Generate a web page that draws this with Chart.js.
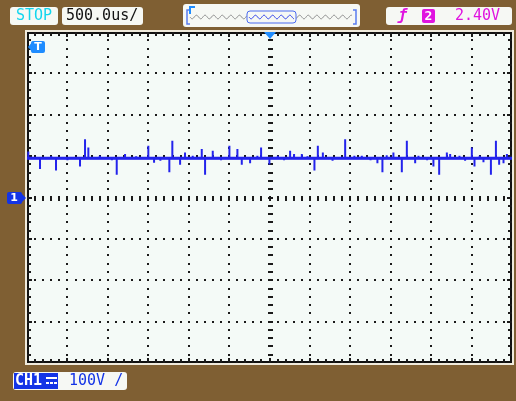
<!DOCTYPE html>
<html>
<head>
<meta charset="utf-8">
<script src="https://cdn.jsdelivr.net/npm/chart.js@4"></script>
<style>
html, body { margin: 0; padding: 0; background: #7f5f33; }
canvas { display: block; }
</style>
</head>
<body>
<canvas id="scope" width="516" height="401"></canvas>
<script>
// Scope settings as shown on screen
const timeRange = [-3000, 3000];   // us, 12 divisions of 500us
const voltRange = [-400, 400];     // V, 8 divisions of 100V
const timePerDiv = 500;
const voltPerDiv = 100;
const baselineVolts = 95;

// CH1 trace: spikes (time in us, level in V)
const spikeTimes = [-2984, -2839, -2641, -2344, -2282, -2241, -1890, -1787, -1499, -1428,
  -1239, -1202, -1106, -1045, -838, -797, -702, -496, -397, -343, -240, -104, -1, 103,
  255, 304, 400, 556, 598, 660, 936, 1142, 1335, 1397, 1533, 1637, 1699, 1802, 1843,
  2028, 2099, 2194, 2235, 2503, 2536, 2647, 2739, 2801, 2841, 2895, 2937];
const spikeVolts = [111, 69, 65, 75, 141, 121, 55, 105, 125, 84,
  61, 137, 79, 109, 117, 55, 113, 125, 117, 79, 83, 121, 80, 101,
  113, 105, 105, 65, 125, 109, 141, 101, 83, 61, 109, 61, 137, 83, 101,
  75, 55, 109, 105, 121, 75, 85, 55, 137, 79, 83, 105];
// small ripple on the baseline
const noiseTimes = [-2700, -2500, -2100, -1950, -1650, -1350, -950, -600, -150, 180,
  470, 780, 1050, 1250, 1450, 1950, 2350, 2420, 2600];
const noiseVolts = [100, 90, 101, 90, 100, 89, 101, 90, 101, 90,
  100, 89, 101, 90, 102, 90, 101, 89, 101];

// header texts
const runState = 'STOP';
const timeLabel = '500.0us/';
const trigSource = '2';
const trigLevel = '2.40V';
const chLabel = 'CH1';
const chScale = '100V /';

const BROWN = '#7f5f33';
const SCREEN = '#f4faf7';
const TRACE = '#2323ec';
const MARK = '#1e8cff';
const CHBLUE = '#1434e6';
const MAGENTA = '#e014e0';
const FONT = '15px "DejaVu Sans Mono"';

// build spike path: up/down from baseline at each time
function buildTrace() {
  const ev = spikeTimes.map((t, i) => ({ t, v: spikeVolts[i] }))
    .concat(noiseTimes.map((t, i) => ({ t, v: noiseVolts[i] })))
    .sort((a, b) => a.t - b.t);
  const pts = [{ x: timeRange[0], y: baselineVolts }];
  ev.forEach(e => {
    pts.push({ x: e.t, y: baselineVolts });
    pts.push({ x: e.t, y: e.v });
    pts.push({ x: e.t, y: baselineVolts });
  });
  pts.push({ x: timeRange[1], y: baselineVolts });
  return pts;
}

function roundRect(ctx, x, y, w, h, r) {
  ctx.beginPath();
  ctx.moveTo(x + r, y);
  ctx.arcTo(x + w, y, x + w, y + h, r);
  ctx.arcTo(x + w, y + h, x, y + h, r);
  ctx.arcTo(x, y + h, x, y, r);
  ctx.arcTo(x, y, x + w, y, r);
  ctx.closePath();
}

const scopeScreen = {
  id: 'scopeScreen',
  beforeDraw(chart) {
    const { ctx, chartArea: a, scales: { x, y } } = chart;
    ctx.save();
    ctx.fillStyle = BROWN;
    ctx.fillRect(0, 0, chart.width, chart.height);
    ctx.fillStyle = '#efeadc';
    ctx.fillRect(a.left - 2, a.top - 2, a.right - a.left + 4, a.bottom - a.top + 4);
    ctx.fillStyle = SCREEN;
    ctx.fillRect(a.left, a.top, a.right - a.left, a.bottom - a.top);

    ctx.fillStyle = '#1a1a1a';
    const minorT = timePerDiv / 5, minorV = voltPerDiv / 5;
    // vertical graticule lines
    for (let t = timeRange[0] + timePerDiv; t < timeRange[1]; t += timePerDiv) {
      const px = Math.round(x.getPixelForValue(t));
      for (let v = voltRange[0] + minorV; v < voltRange[1]; v += minorV) {
        const py = Math.round(y.getPixelForValue(v));
        if (t === 0) ctx.fillRect(px - 2, py - 1, 5, 2);
        else ctx.fillRect(px - 1, py - 1, 2, 2);
      }
    }
    // horizontal graticule lines
    for (let v = voltRange[0] + voltPerDiv; v < voltRange[1]; v += voltPerDiv) {
      const py = Math.round(y.getPixelForValue(v));
      for (let t = timeRange[0] + minorT; t < timeRange[1]; t += minorT) {
        const px = Math.round(x.getPixelForValue(t));
        if (v === 0) ctx.fillRect(px - 1, py - 2, 2, 5);
        else ctx.fillRect(px - 1, py - 1, 2, 2);
      }
    }
    // border with minor ticks
    ctx.strokeStyle = '#111';
    ctx.lineWidth = 2;
    ctx.strokeRect(a.left + 1, a.top + 1, a.right - a.left - 2, a.bottom - a.top - 2);
    for (let t = timeRange[0] + minorT; t < timeRange[1]; t += minorT) {
      const px = Math.round(x.getPixelForValue(t));
      const len = (t % timePerDiv === 0) ? 5 : 4;
      ctx.fillRect(px - 1, a.top, 2, len);
      ctx.fillRect(px - 1, a.bottom - len, 2, len);
    }
    for (let v = voltRange[0] + minorV; v < voltRange[1]; v += minorV) {
      const py = Math.round(y.getPixelForValue(v));
      const len = (v % voltPerDiv === 0) ? 5 : 4;
      ctx.fillRect(a.left, py - 1, len, 2);
      ctx.fillRect(a.right - len, py - 1, len, 2);
    }
    ctx.restore();
  },
  afterDatasetsDraw(chart) {
    const { ctx, chartArea: a, scales: { x, y } } = chart;
    ctx.save();
    // trigger position marker
    const cx = Math.round(x.getPixelForValue(0));
    ctx.fillStyle = MARK;
    ctx.beginPath();
    ctx.moveTo(cx - 6, a.top);
    ctx.lineTo(cx + 6, a.top);
    ctx.lineTo(cx, a.top + 7);
    ctx.closePath();
    ctx.fill();
    // trigger level "T" marker
    roundRect(ctx, a.left + 4, 41, 14, 12, 2);
    ctx.fill();
    ctx.beginPath();
    ctx.moveTo(a.left + 1, 47);
    ctx.lineTo(a.left + 6, 41);
    ctx.lineTo(a.left + 6, 53);
    ctx.closePath();
    ctx.fill();
    ctx.fillStyle = '#fff';
    ctx.font = 'bold 11px "DejaVu Sans"';
    ctx.textAlign = 'center';
    ctx.textBaseline = 'middle';
    ctx.fillText('T', a.left + 11, 47.5);
    // channel 1 ground marker
    const gy = Math.round(y.getPixelForValue(0));
    ctx.fillStyle = CHBLUE;
    roundRect(ctx, 7, gy - 6, 15, 12, 2);
    ctx.fill();
    ctx.beginPath();
    ctx.moveTo(20, gy - 6);
    ctx.lineTo(26, gy);
    ctx.lineTo(20, gy + 6);
    ctx.closePath();
    ctx.fill();
    ctx.fillStyle = '#fff';
    ctx.fillText('1', 14, gy + 0.5);
    ctx.restore();
  },
  afterDraw(chart) {
    const { ctx } = chart;
    ctx.save();
    ctx.font = FONT;
    ctx.textBaseline = 'middle';
    ctx.textAlign = 'left';
    const box = (x0, y0, w, h) => {
      ctx.fillStyle = '#f6f8f4';
      roundRect(ctx, x0, y0, w, h, 3);
      ctx.fill();
    };
    // run state and timebase
    box(10, 7, 48, 18);
    ctx.fillStyle = '#12d6ee';
    ctx.fillText(runState, 16, 16.5);
    box(62, 7, 81, 18);
    ctx.fillStyle = '#111';
    ctx.fillText(timeLabel, 66, 16.5);

    // memory position bar
    box(183, 4, 177, 23);
    ctx.strokeStyle = '#5a7cf0';
    ctx.lineWidth = 1.5;
    ctx.beginPath();
    ctx.moveTo(190, 10); ctx.lineTo(187, 10); ctx.lineTo(187, 24); ctx.lineTo(190, 24);
    ctx.moveTo(353, 10); ctx.lineTo(356, 10); ctx.lineTo(356, 24); ctx.lineTo(353, 24);
    ctx.stroke();
    ctx.fillStyle = MARK;
    ctx.fillRect(189, 6, 2, 8);
    ctx.fillRect(189, 6, 6, 2);
    const wave = (x0, x1, col) => {
      ctx.strokeStyle = col;
      ctx.lineWidth = 1;
      ctx.beginPath();
      for (let px = x0; px <= x1; px += 0.5) {
        const py = 17 + 1.8 * Math.sin((px - x0) / 8.6 * 2 * Math.PI);
        if (px === x0) ctx.moveTo(px, py); else ctx.lineTo(px, py);
      }
      ctx.stroke();
    };
    wave(190, 352, '#8a8a8a');
    ctx.fillStyle = '#f6f8f4';
    roundRect(ctx, 247, 11, 49, 12, 3);
    ctx.fill();
    wave(249, 294, '#2a3cec');
    ctx.strokeStyle = '#4a6af0';
    roundRect(ctx, 247, 11, 49, 12, 3);
    ctx.stroke();

    // trigger info
    box(386, 7, 126, 18);
    ctx.fillStyle = MAGENTA;
    ctx.font = 'bold italic 15px "DejaVu Sans Mono"';
    ctx.fillText('ƒ', 398, 16.5);
    roundRect(ctx, 422, 9, 13, 14, 2);
    ctx.fill();
    ctx.fillStyle = '#fff';
    ctx.font = 'bold 13px "DejaVu Sans Mono"';
    ctx.textAlign = 'center';
    ctx.fillText(trigSource, 428.5, 16.5);
    ctx.textAlign = 'left';
    ctx.fillStyle = MAGENTA;
    ctx.font = FONT;
    ctx.fillText(trigLevel, 455, 16.5);

    // channel scale
    box(13, 372, 114, 18);
    ctx.fillStyle = CHBLUE;
    ctx.fillRect(14, 373, 44, 16);
    ctx.fillStyle = '#fff';
    ctx.font = 'bold 15px "DejaVu Sans Mono"';
    ctx.fillText(chLabel, 15, 381.5);
    ctx.fillRect(46, 377, 11, 2);
    for (let i = 0; i < 3; i++) ctx.fillRect(46 + i * 4, 382, 3, 2);
    ctx.fillStyle = CHBLUE;
    ctx.font = FONT;
    ctx.fillText(chScale, 69, 381.5);
    ctx.restore();
  }
};

const chart = new Chart(document.getElementById('scope'), {
  type: 'line',
  data: {
    datasets: [{
      label: 'baseline',
      data: [{ x: timeRange[0], y: baselineVolts }, { x: timeRange[1], y: baselineVolts }],
      borderColor: TRACE,
      borderWidth: 3,
      pointRadius: 0
    }, {
      label: 'CH1',
      data: buildTrace(),
      borderColor: TRACE,
      borderWidth: 2,
      pointRadius: 0,
      tension: 0
    }]
  },
  options: {
    responsive: false,
    animation: false,
    layout: { padding: { left: 27, right: 4, top: 32, bottom: 38 } },
    plugins: { legend: { display: false }, tooltip: { enabled: false } },
    scales: {
      x: { type: 'linear', min: timeRange[0], max: timeRange[1], display: false },
      y: { min: voltRange[0], max: voltRange[1], display: false }
    }
  },
  plugins: [scopeScreen]
});
</script>
</body>
</html>
